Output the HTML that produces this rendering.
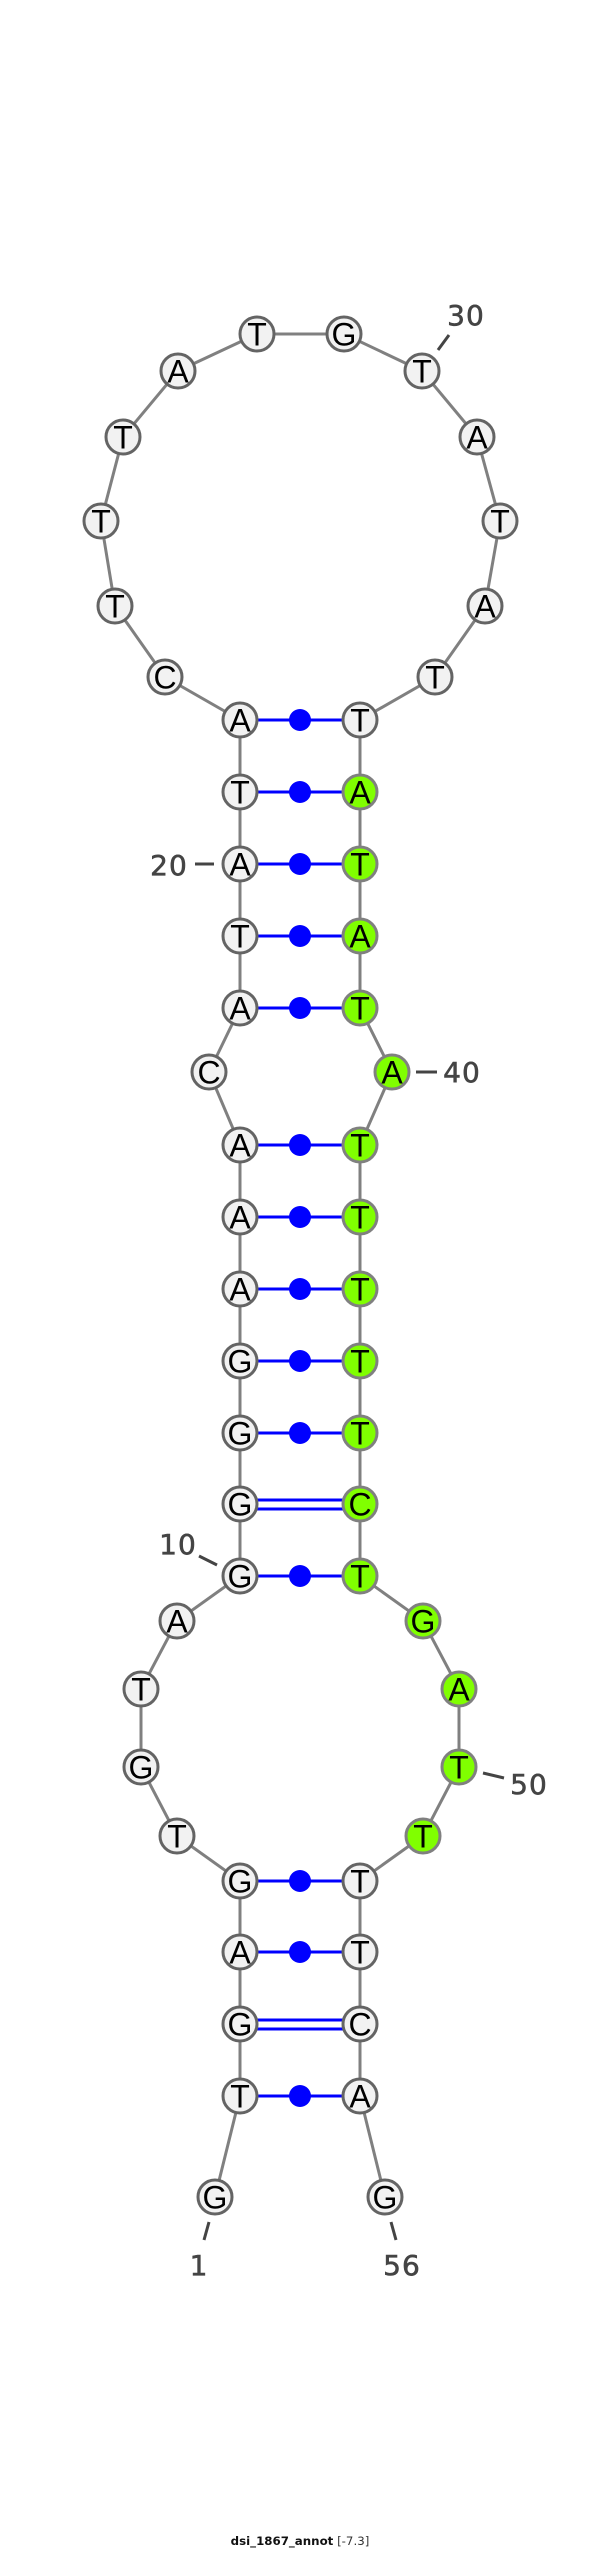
<!DOCTYPE html>
<html><head><meta charset="utf-8"><style>
html,body{margin:0;padding:0;background:#fff}
svg{display:block}
.b{stroke:#808080;stroke-width:3;fill:none}
.p{stroke:#0000ff;stroke-width:3;fill:none}
.d{fill:#0000ff}
.t{stroke:#444;stroke-width:3}
.w{fill:#f2f2f2;stroke:#646464;stroke-width:3}
.g{fill:#80ff00;stroke:#808080;stroke-width:3}
.l{font:32px "Liberation Sans",sans-serif;fill:#000;text-anchor:middle}
.n{font:28px "DejaVu Sans",sans-serif;fill:#444;stroke:#444;stroke-width:.6px;letter-spacing:1px;text-anchor:middle}
</style></head><body>
<svg xmlns="http://www.w3.org/2000/svg" width="600" height="2549" viewBox="0 0 600 2549">
<polyline class="b" points="215,2197 240,2096 240,2024 240,1952 240,1881 177,1836 141,1767 141,1689 177,1621 240,1576 240,1504 240,1433 240,1361 240,1289 240,1217 240,1145 209,1072 240,1008 240,936 240,864 240,792 240,720 165,677 115,606 101,521 123,437 178,371 257,334 344,334 422,371 477,437 500,521 485,606 435,677 360,720 360,792 360,864 360,936 360,1008 392,1072 360,1145 360,1217 360,1289 360,1361 360,1433 360,1504 360,1576 423,1621 459,1689 459,1767 423,1836 360,1881 360,1952 360,2024 360,2096 385,2197"/>
<path class="p" d="M240 720H360M240 792H360M240 864H360M240 936H360M240 1008H360M240 1145H360M240 1217H360M240 1289H360M240 1361H360M240 1433H360M240 1576H360M240 1881H360M240 1952H360M240 2096H360M240 1500H360M240 1509H360M240 2020H360M240 2029H360"/>
<g class="d">
<circle cx="300" cy="720" r="11"/><circle cx="300" cy="792" r="11"/><circle cx="300" cy="864" r="11"/><circle cx="300" cy="936" r="11"/><circle cx="300" cy="1008" r="11"/><circle cx="300" cy="1145" r="11"/><circle cx="300" cy="1217" r="11"/><circle cx="300" cy="1289" r="11"/><circle cx="300" cy="1361" r="11"/><circle cx="300" cy="1433" r="11"/><circle cx="300" cy="1576" r="11"/><circle cx="300" cy="1881" r="11"/><circle cx="300" cy="1952" r="11"/><circle cx="300" cy="2096" r="11"/>
</g>
<g>
<circle class="w" cx="215" cy="2197" r="17"/><text class="l" x="215" y="2208.500">G</text>
<circle class="w" cx="240" cy="2096" r="17"/><text class="l" x="240" y="2107.500">T</text>
<circle class="w" cx="240" cy="2024" r="17"/><text class="l" x="240" y="2035.500">G</text>
<circle class="w" cx="240" cy="1952" r="17"/><text class="l" x="240" y="1963.500">A</text>
<circle class="w" cx="240" cy="1881" r="17"/><text class="l" x="240" y="1892.500">G</text>
<circle class="w" cx="177" cy="1836" r="17"/><text class="l" x="177" y="1847.500">T</text>
<circle class="w" cx="141" cy="1767" r="17"/><text class="l" x="141" y="1778.500">G</text>
<circle class="w" cx="141" cy="1689" r="17"/><text class="l" x="141" y="1700.500">T</text>
<circle class="w" cx="177" cy="1621" r="17"/><text class="l" x="177" y="1632.500">A</text>
<circle class="w" cx="240" cy="1576" r="17"/><text class="l" x="240" y="1587.500">G</text>
<circle class="w" cx="240" cy="1504" r="17"/><text class="l" x="240" y="1515.500">G</text>
<circle class="w" cx="240" cy="1433" r="17"/><text class="l" x="240" y="1444.500">G</text>
<circle class="w" cx="240" cy="1361" r="17"/><text class="l" x="240" y="1372.500">G</text>
<circle class="w" cx="240" cy="1289" r="17"/><text class="l" x="240" y="1300.500">A</text>
<circle class="w" cx="240" cy="1217" r="17"/><text class="l" x="240" y="1228.500">A</text>
<circle class="w" cx="240" cy="1145" r="17"/><text class="l" x="240" y="1156.500">A</text>
<circle class="w" cx="209" cy="1072" r="17"/><text class="l" x="209" y="1083.500">C</text>
<circle class="w" cx="240" cy="1008" r="17"/><text class="l" x="240" y="1019.500">A</text>
<circle class="w" cx="240" cy="936" r="17"/><text class="l" x="240" y="947.500">T</text>
<circle class="w" cx="240" cy="864" r="17"/><text class="l" x="240" y="875.500">A</text>
<circle class="w" cx="240" cy="792" r="17"/><text class="l" x="240" y="803.500">T</text>
<circle class="w" cx="240" cy="720" r="17"/><text class="l" x="240" y="731.500">A</text>
<circle class="w" cx="165" cy="677" r="17"/><text class="l" x="165" y="688.500">C</text>
<circle class="w" cx="115" cy="606" r="17"/><text class="l" x="115" y="617.500">T</text>
<circle class="w" cx="101" cy="521" r="17"/><text class="l" x="101" y="532.500">T</text>
<circle class="w" cx="123" cy="437" r="17"/><text class="l" x="123" y="448.500">T</text>
<circle class="w" cx="178" cy="371" r="17"/><text class="l" x="178" y="382.500">A</text>
<circle class="w" cx="257" cy="334" r="17"/><text class="l" x="257" y="345.500">T</text>
<circle class="w" cx="344" cy="334" r="17"/><text class="l" x="344" y="345.500">G</text>
<circle class="w" cx="422" cy="371" r="17"/><text class="l" x="422" y="382.500">T</text>
<circle class="w" cx="477" cy="437" r="17"/><text class="l" x="477" y="448.500">A</text>
<circle class="w" cx="500" cy="521" r="17"/><text class="l" x="500" y="532.500">T</text>
<circle class="w" cx="485" cy="606" r="17"/><text class="l" x="485" y="617.500">A</text>
<circle class="w" cx="435" cy="677" r="17"/><text class="l" x="435" y="688.500">T</text>
<circle class="w" cx="360" cy="720" r="17"/><text class="l" x="360" y="731.500">T</text>
<circle class="g" cx="360" cy="792" r="17"/><text class="l" x="360" y="803.500">A</text>
<circle class="g" cx="360" cy="864" r="17"/><text class="l" x="360" y="875.500">T</text>
<circle class="g" cx="360" cy="936" r="17"/><text class="l" x="360" y="947.500">A</text>
<circle class="g" cx="360" cy="1008" r="17"/><text class="l" x="360" y="1019.500">T</text>
<circle class="g" cx="392" cy="1072" r="17"/><text class="l" x="392" y="1083.500">A</text>
<circle class="g" cx="360" cy="1145" r="17"/><text class="l" x="360" y="1156.500">T</text>
<circle class="g" cx="360" cy="1217" r="17"/><text class="l" x="360" y="1228.500">T</text>
<circle class="g" cx="360" cy="1289" r="17"/><text class="l" x="360" y="1300.500">T</text>
<circle class="g" cx="360" cy="1361" r="17"/><text class="l" x="360" y="1372.500">T</text>
<circle class="g" cx="360" cy="1433" r="17"/><text class="l" x="360" y="1444.500">T</text>
<circle class="g" cx="360" cy="1504" r="17"/><text class="l" x="360" y="1515.500">C</text>
<circle class="g" cx="360" cy="1576" r="17"/><text class="l" x="360" y="1587.500">T</text>
<circle class="g" cx="423" cy="1621" r="17"/><text class="l" x="423" y="1632.500">G</text>
<circle class="g" cx="459" cy="1689" r="17"/><text class="l" x="459" y="1700.500">A</text>
<circle class="g" cx="459" cy="1767" r="17"/><text class="l" x="459" y="1778.500">T</text>
<circle class="g" cx="423" cy="1836" r="17"/><text class="l" x="423" y="1847.500">T</text>
<circle class="w" cx="360" cy="1881" r="17"/><text class="l" x="360" y="1892.500">T</text>
<circle class="w" cx="360" cy="1952" r="17"/><text class="l" x="360" y="1963.500">T</text>
<circle class="w" cx="360" cy="2024" r="17"/><text class="l" x="360" y="2035.500">C</text>
<circle class="w" cx="360" cy="2096" r="17"/><text class="l" x="360" y="2107.500">A</text>
<circle class="w" cx="385" cy="2197" r="17"/><text class="l" x="385" y="2208.500">G</text>
</g>
<line class="t" x1="449" y1="335" x2="438" y2="350"/><text class="n" x="466" y="325">30</text>
<line class="t" x1="195" y1="864" x2="214" y2="864"/><text class="n" x="169" y="875">20</text>
<line class="t" x1="416" y1="1072" x2="437" y2="1072"/><text class="n" x="462" y="1082">40</text>
<line class="t" x1="199" y1="1556" x2="217" y2="1565"/><text class="n" x="178" y="1554">10</text>
<line class="t" x1="483" y1="1773" x2="504" y2="1778"/><text class="n" x="529" y="1794">50</text>
<line class="t" x1="209" y1="2222" x2="204" y2="2240"/><text class="n" x="199" y="2275">1</text>
<line class="t" x1="391" y1="2222" x2="396" y2="2240"/><text class="n" x="402" y="2275">56</text>
<text x="300" y="2545" text-anchor="middle" style="font:11.8px 'DejaVu Sans',sans-serif;fill:#111"><tspan font-weight="bold">dsi_1867_annot</tspan> <tspan fill="#333">[-7.3]</tspan></text>
</svg>
</body></html>
